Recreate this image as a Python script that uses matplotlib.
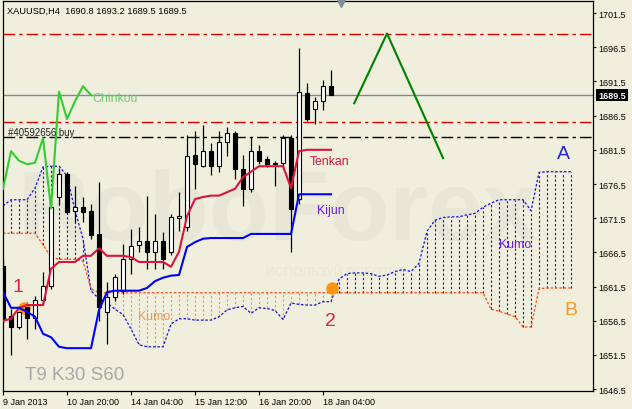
import matplotlib
matplotlib.use('Agg')
import matplotlib.pyplot as plt
from matplotlib.transforms import blended_transform_factory
import numpy as np

plt.rcParams['font.family'] = ['Liberation Sans', 'DejaVu Sans']

# XAUUSD H4, bar 0 = 9 Jan 2013
opens = [1664.5, 1657.2, 1655.6, 1658.5, 1656.9, 1659.5, 1661.6, 1674.6, 1678.0, 1672.6,
         1673.1, 1672.6, 1669.2, 1657.8, 1660.0, 1660.9, 1665.5, 1667.6, 1668.2, 1666.6,
         1668.2, 1666.6, 1671.5, 1670.2, 1680.7, 1679.1, 1681.3, 1679.1, 1682.6, 1684.0,
         1678.7, 1675.8, 1681.3, 1680.2, 1679.4, 1679.6, 1683.2, 1674.3, 1689.8, 1687.5,
         1688.6, 1690.8]
highs = [1665.5, 1658.2, 1658.2, 1659.3, 1660.1, 1663.6, 1674.3, 1678.7, 1678.3, 1676.2,
         1674.6, 1673.6, 1676.8, 1662.2, 1663.3, 1667.7, 1669.9, 1670.2, 1674.8, 1672.1,
         1669.5, 1672.1, 1675.3, 1683.7, 1684.3, 1685.1, 1682.5, 1684.3, 1684.8, 1684.3,
         1680.7, 1683.4, 1682.2, 1680.6, 1679.9, 1683.7, 1683.7, 1696.4, 1691.3, 1689.2,
         1691.7, 1693.2]
lows = [1656.0, 1651.5, 1655.3, 1653.8, 1655.3, 1658.8, 1661.2, 1673.6, 1672.1, 1670.9,
        1670.9, 1668.5, 1656.5, 1653.1, 1659.4, 1660.4, 1663.3, 1666.6, 1664.1, 1664.1,
        1664.1, 1666.1, 1669.6, 1669.6, 1675.8, 1679.0, 1677.8, 1678.3, 1680.6, 1677.2,
        1673.3, 1675.3, 1679.4, 1679.0, 1676.2, 1678.7, 1666.6, 1673.6, 1685.7, 1685.3,
        1687.3, 1689.5]
closes = [1656.6, 1655.6, 1657.8, 1656.9, 1659.5, 1661.6, 1673.1, 1678.0, 1672.4, 1673.1,
          1672.4, 1669.0, 1658.5, 1660.0, 1662.9, 1665.5, 1667.4, 1668.2, 1666.6, 1668.2,
          1665.5, 1671.7, 1671.8, 1680.6, 1679.4, 1681.3, 1679.1, 1682.6, 1684.0, 1678.7,
          1675.8, 1681.3, 1679.9, 1679.4, 1679.6, 1683.2, 1672.9, 1690.0, 1686.0, 1688.6,
          1690.8, 1689.5]

tenkan = [1656.5, 1656.8, 1658.4, 1658.8, 1658.8, 1658.8, 1664.1, 1665.1, 1665.1, 1665.1,
          1666.0, 1666.0, 1667.1, 1666.0, 1666.0, 1666.0, 1665.8, 1665.1, 1665.1, 1665.1,
          1665.1, 1664.4, 1666.6, 1671.8, 1674.3, 1674.6, 1674.8, 1674.8, 1675.3, 1675.8,
          1677.5, 1678.3, 1679.1, 1679.1, 1679.1, 1679.1, 1675.9, 1681.3, 1681.5, 1681.5,
          1681.5, 1681.5]
kijun = [1660.7, 1658.4, 1658.4, 1657.8, 1657.1, 1654.6, 1654.1, 1652.7, 1652.5, 1652.5,
         1652.5, 1652.5, 1658.1, 1660.7, 1660.9, 1660.9, 1660.9, 1660.9, 1661.3, 1662.3,
         1662.8, 1663.1, 1663.2, 1667.3, 1668.0, 1668.5, 1668.6, 1668.6, 1668.6, 1668.6,
         1668.6, 1669.2, 1669.2, 1669.2, 1669.2, 1669.2, 1669.2, 1675.0, 1675.0, 1675.0,
         1675.0, 1675.0]
chinkou = [1675.8, 1681.3, 1679.9, 1679.4, 1679.6, 1683.2, 1672.9, 1690.0, 1686.0, 1688.6,
           1690.8, 1689.5]
senkou_a = [1673.3, 1674.2, 1674.2, 1674.2, 1675.9, 1679.0, 1679.1, 1679.1, 1677.7, 1672.6,
            1668.5, 1660.9, 1659.7, 1659.1, 1658.2, 1657.4, 1655.3, 1653.0, 1652.7, 1652.7,
            1652.7, 1656.0, 1656.8, 1656.8, 1656.6, 1656.6, 1656.6, 1657.1, 1658.1, 1658.4,
            1658.6, 1657.6, 1658.4, 1658.3, 1658.0, 1656.7, 1659.1, 1658.9, 1658.8, 1658.8,
            1659.3, 1659.3, 1662.6, 1663.4, 1663.5, 1663.5, 1663.4, 1663.0, 1663.2, 1663.7,
            1664.0, 1663.7, 1664.9, 1669.6, 1671.2, 1671.6, 1671.7, 1671.7, 1672.0, 1672.2,
            1673.1, 1673.7, 1674.2, 1674.2, 1674.2, 1674.2, 1672.6, 1678.2, 1678.3, 1678.3,
            1678.3, 1678.3]
senkou_b = [1669.3, 1669.3, 1669.3, 1669.3, 1669.3, 1667.6, 1665.8, 1665.5, 1665.5, 1665.5,
            1665.2, 1661.2, 1660.6, 1660.6, 1660.6, 1660.6, 1660.6, 1660.6, 1660.6, 1660.6,
            1660.6, 1660.6, 1660.6, 1660.6, 1660.6, 1660.6, 1660.6, 1660.6, 1660.6, 1660.6,
            1660.6, 1660.6, 1660.6, 1660.6, 1660.6, 1660.6, 1660.6, 1660.6, 1660.6, 1660.6,
            1660.6, 1660.6, 1660.6, 1660.6, 1660.6, 1660.6, 1660.6, 1660.6, 1660.6, 1660.6,
            1660.6, 1660.6, 1660.6, 1660.6, 1660.6, 1660.6, 1660.6, 1660.6, 1660.6, 1660.6,
            1660.6, 1658.2, 1657.9, 1657.5, 1657.1, 1655.6, 1655.6, 1661.2, 1661.3, 1661.3,
            1661.3, 1661.3]

date_ticks = [0, 8, 16, 24, 32, 40]
date_labels = ['9 Jan 2013', '10 Jan 20:00', '14 Jan 04:00', '15 Jan 12:00',
               '16 Jan 20:00', '18 Jan 04:00']
price_ticks = [1646.5, 1651.5, 1656.5, 1661.5, 1666.5, 1671.5, 1676.5, 1681.5,
               1686.5, 1691.5, 1696.5, 1701.5]

red_levels = [1698.4, 1685.5]
order_level = 1683.4
last_price = 1689.5
zigzag_bars = [43.9, 48.0, 55.0]
zigzag_prices = [1688.3, 1698.5, 1680.3]
dot_bars = [2.6, 41.1]
dot_prices = [1658.4, 1661.3]
shift_bar = 42.3

bg = '#F0EFDD'
W, H = 632, 410

fig = plt.figure(figsize=(W / 100, H / 100), dpi=100, facecolor=bg)
ax = fig.add_axes([2.7 / W, 18.3 / H, 590 / W, 390 / H], facecolor=bg)


def put(px, py, s, **kw):
    ax.text(px / W, 1 - py / H, s, transform=fig.transFigure, **kw)


# watermark
put(278, 215, 'RoboForex', fontsize=71, fontweight='bold', color='#E8E7D7',
    ha='center', va='center', zorder=0.5)
put(266, 276, 'ИСПОЛЬЗУЙ РОБОТОВ', fontsize=9, color='#E7E6D6', zorder=0.5)

# kumo
ka = np.array(senkou_a)
kb = np.array(senkou_b)
kx = np.arange(len(ka))
up = ka >= kb
ax.vlines(kx[up], kb[up], ka[up], colors='#1010D8', linestyles=[(0, (2, 2))], lw=0.8, zorder=1)
ax.vlines(kx[~up], ka[~up], kb[~up], colors='#F29060', linestyles=[(0, (2, 2))], lw=0.8, zorder=1)
ax.plot(kx, ka, color='#1010D8', ls=(0, (2, 1.5)), lw=0.9, zorder=1.5)
ax.plot(kx, kb, color='#FF4A10', ls=(0, (2, 1.5)), lw=0.9, zorder=1.5)

# horizontal levels
dashdot = (0, (8.4, 2.9, 2.4, 2.9))
for lv in red_levels:
    ax.axhline(lv, color='#E00000', lw=1, ls=dashdot, zorder=2)
ax.axhline(order_level, color='black', lw=1, ls=dashdot, zorder=2)
ax.axhline(last_price, color='#7A8A99', lw=1, zorder=2)

# candles
x = np.arange(len(closes))
o = np.array(opens)
c = np.array(closes)
bull = c >= o
ax.plot(dot_bars, dot_prices, 'o', color='#FF9410', ms=9, mec='none', zorder=3.5)
ax.vlines(x, lows, highs, color='black', lw=0.9, zorder=3)
ax.bar(x[bull], (c - o)[bull], bottom=o[bull], width=0.6, color='white',
       edgecolor='black', lw=0.8, zorder=4)
ax.bar(x[~bull], (o - c)[~bull], bottom=c[~bull], width=0.6, color='black',
       edgecolor='black', lw=0.8, zorder=4)

# ichimoku lines
ax.plot(x, tenkan, color='#DC143C', lw=1.5, zorder=5)
ax.plot(x, kijun, color='#0000FF', lw=1.5, zorder=5)
ax.plot(np.arange(len(chinkou)), chinkou, color='#32CD32', lw=1.5, zorder=5)
ax.plot(zigzag_bars, zigzag_prices, color='#008000', lw=1.5, zorder=5)

tr = blended_transform_factory(ax.transData, ax.transAxes)
ax.plot([shift_bar], [0.993], 'v', color='#7F8C99', ms=6, transform=tr, clip_on=False, zorder=6)

ax.set_xlim(-0.04, 73.71)
ax.set_ylim(1646.28, 1703.3)
ax.yaxis.tick_right()
ax.set_yticks(price_ticks)
ax.set_yticklabels([f'{p:.1f}' for p in price_ticks])
ax.tick_params(axis='y', length=2.5, pad=1.8, labelsize=6.5, width=0.8)
ax.set_xticks(date_ticks)
ax.set_xticklabels(date_labels, ha='left')
ax.tick_params(axis='x', length=3, pad=1.5, labelsize=6.5, width=0.8)
for s in ax.spines.values():
    s.set_linewidth(0.9)

tp = blended_transform_factory(ax.transAxes, ax.transData)
ax.text(1.0095, last_price, f'{last_price:.1f}', transform=tp, ha='left', va='center',
        color='white', fontsize=6.5, fontweight='bold', clip_on=False,
        bbox=dict(boxstyle='square,pad=0.2', fc='black', ec='none'))

# labels
put(7.3, 14, 'XAUUSD,H4  1690.8 1693.2 1689.5 1689.5', fontsize=6.7, va='baseline', zorder=6)
put(8.3, 136, '#40592656 buy', fontsize=6.9, color='#202020', va='baseline', zorder=6)
put(92.7, 102, 'Chinkou', fontsize=8.8, color='#6CCF6C', va='baseline', zorder=6)
put(310, 165, 'Tenkan', fontsize=8.8, color='#DC143C', va='baseline', zorder=6)
put(317, 214, 'Kijun', fontsize=8.8, color='#6A1BE8', va='baseline', zorder=6)
put(499, 248, 'Kumo', fontsize=8.8, color='#6A1BE8', va='baseline', zorder=6)
put(138.3, 320, 'Kumo', fontsize=8.8, color='#E89A5A', va='baseline', zorder=6)
put(563, 159.3, 'A', fontsize=14, color='#2020E0', ha='center', va='baseline', zorder=6)
put(570.5, 315, 'B', fontsize=14, color='#FF9920', ha='center', va='baseline', zorder=6)
put(18.3, 291.7, '1', fontsize=14, color='#DC2050', ha='center', va='baseline', zorder=6)
put(330.5, 325.7, '2', fontsize=14, color='#DC2050', ha='center', va='baseline', zorder=6)
put(25, 380, 'T9 K30 S60', fontsize=13.5, color='#A8A8A8', va='baseline', zorder=6)

fig.savefig('out.png', dpi=100, facecolor=bg)
